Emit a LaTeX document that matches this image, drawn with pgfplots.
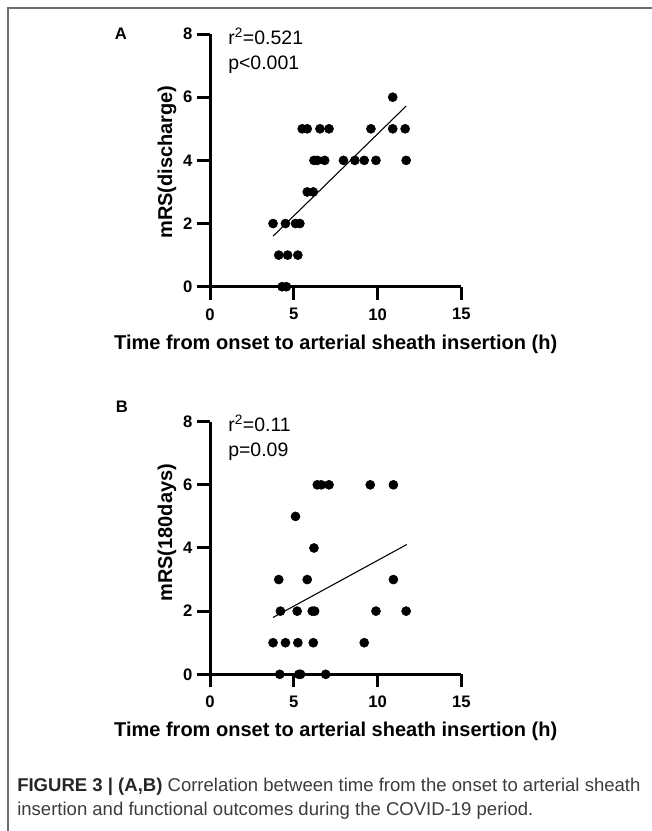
\documentclass[border=0pt]{standalone}
\usepackage{fontspec}
\setmainfont{Liberation Sans}
\usepackage{pgfplots}
\pgfplotsset{compat=1.18}
\definecolor{framec}{RGB}{110,110,110}
\definecolor{capc}{RGB}{60,60,60}

\pgfplotsset{prism/.style={
  scale only axis, width=188.6pt, height=189.5pt,
  xmin=0, xmax=15, ymin=0, ymax=8,
  axis lines=left, axis line style={line width=2.25pt, -},
  xtick={0,5,10,15}, ytick={0,2,4,6,8},
  tick align=outside, major tick length=9.75pt,
  every tick/.style={line width=2.25pt, black},
  /pgf/number format/assume math mode=true,
  tick label style={font=\fontsize{12.5}{14}\selectfont\bfseries},
  xticklabel style={yshift=-3pt},
  label style={font=\fontsize{15}{17}\selectfont\bfseries},
  xlabel style={at={(axis description cs:0.5,-0.2268)}, anchor=center},
  clip=false,
}}

\begin{document}
\begin{tikzpicture}
\useasboundingbox (0,0) rectangle ({652*0.75pt},{-831*0.75pt});
% frame
\draw[framec, line width=1.5pt] ({7.5*0.75pt},{-831*0.75pt}) -- ({7.5*0.75pt},{-8.5*0.75pt}) -- ({652*0.75pt},{-8.5*0.75pt});

% panel A
\begin{axis}[prism, at={({210*0.75pt},{-286.7*0.75pt})}, anchor=south west,
  xlabel={Time from onset to arterial sheath insertion (h)},
  ylabel={mRS(discharge)},
  ylabel style={at={(axis description cs:-0.171,0.4935)}, anchor=center}]
  \addplot[only marks, mark=*, mark size=3.4pt, black] coordinates {
    (10.9,6)
    (5.5,5) (5.8,5) (6.56,5) (7.1,5) (9.6,5) (10.9,5) (11.64,5)
    (6.2,4) (6.4,4) (6.84,4) (7.96,4) (8.64,4) (9.2,4) (9.9,4) (11.7,4)
    (5.8,3) (6.16,3)
    (3.76,2) (4.5,2) (5.1,2) (5.36,2)
    (4.1,1) (4.63,1) (5.24,1)
    (4.3,0) (4.56,0)
  };
  \addplot[black, line width=0.8pt] coordinates {(3.76,1.6) (11.7,5.72)};
\end{axis}

% panel B
\begin{axis}[prism, at={({210*0.75pt},{-674.3*0.75pt})}, anchor=south west,
  xlabel={Time from onset to arterial sheath insertion (h)},
  ylabel={mRS(180days)},
  ylabel style={at={(axis description cs:-0.171,0.56)}, anchor=center}]
  \addplot[only marks, mark=*, mark size=3.4pt, black] coordinates {
    (6.4,6) (6.64,6) (7.1,6) (9.56,6) (10.94,6)
    (5.1,5)
    (6.2,4)
    (4.1,3) (5.8,3) (10.94,3)
    (4.2,2) (5.2,2) (6.1,2) (6.24,2) (9.9,2) (11.7,2)
    (3.76,1) (4.5,1) (5.24,1) (6.16,1) (9.2,1)
    (4.16,0) (5.3,0) (5.4,0) (6.9,0)
  };
  \addplot[black, line width=0.8pt] coordinates {(3.76,1.8) (11.74,4.11)};
\end{axis}

% panel letters and statistics
\node[font=\fontsize{12.5}{14}\selectfont\bfseries] at ({121*0.75pt},{-34*0.75pt}) {A};
\node[font=\fontsize{12.5}{14}\selectfont\bfseries] at ({122*0.75pt},{-407*0.75pt}) {B};
\node[font=\fontsize{14.6}{17}\selectfont, anchor=base west, inner sep=0pt] at ({228*0.75pt},{-44.3*0.75pt}) {r\textsuperscript{2}=0.521};
\node[font=\fontsize{14.6}{17}\selectfont, anchor=base west, inner sep=0pt] at ({228*0.75pt},{-69.3*0.75pt}) {p<0.001};
\node[font=\fontsize{14.6}{17}\selectfont, anchor=base west, inner sep=0pt] at ({228*0.75pt},{-431*0.75pt}) {r\textsuperscript{2}=0.11};
\node[font=\fontsize{14.6}{17}\selectfont, anchor=base west, inner sep=0pt] at ({228*0.75pt},{-456*0.75pt}) {p=0.09};

% caption
\node[font=\fontsize{13.9}{18}\selectfont, anchor=base west, inner sep=0pt, text=capc] at ({17*0.75pt},{-791*0.75pt})
  {\textbf{\color{black!85}FIGURE 3 | (A,B)} Correlation between time from the onset to arterial sheath};
\node[font=\fontsize{13.9}{18}\selectfont, anchor=base west, inner sep=0pt, text=capc] at ({17*0.75pt},{-815*0.75pt})
  {insertion and functional outcomes during the COVID-19 period.};
\end{tikzpicture}
\end{document}
